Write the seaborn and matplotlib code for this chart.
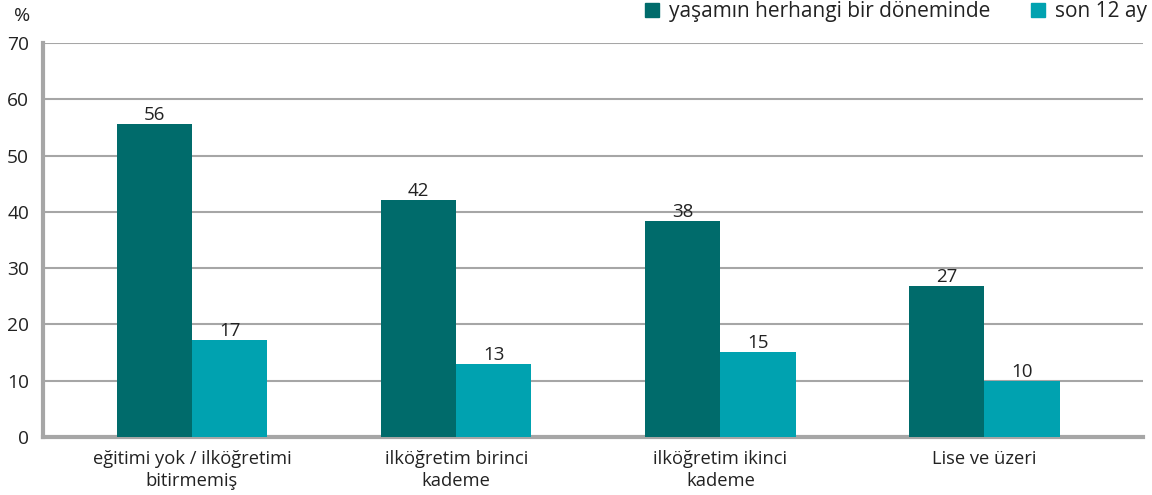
import pandas as pd
import seaborn as sns
import matplotlib.pyplot as plt
from matplotlib.lines import Line2D

categories = ["eğitimi yok / ilköğretimi\nbitirmemiş", "ilköğretim birinci\nkademe",
              "ilköğretim ikinci\nkademe", "Lise ve üzeri"]
series = ["yaşamın herhangi bir döneminde", "son 12 ay"]
lifetime = [55.6, 42.1, 38.4, 26.8]
last12 = [17.2, 13.0, 15.1, 9.9]
colors = ["#006b6b", "#00a2b0"]

df = pd.DataFrame({
    "kategori": categories * 2,
    "seri": [series[0]] * 4 + [series[1]] * 4,
    "deger": lifetime + last12,
})

sns.set_theme(style="white")
plt.rcParams["font.family"] = ["Open Sans", "DejaVu Sans"]
grid_c = "#a6a6a6"
txt_c = "#222222"

fig = plt.figure(figsize=(11.52, 4.95), dpi=100)
ax = fig.add_axes([43 / 1152, 1 - 437 / 495, 1100 / 1152, 394 / 495])

sns.barplot(data=df, x="kategori", y="deger", hue="seri", palette=colors,
            width=0.57, dodge=True, legend=False, ax=ax, saturation=1,
            linewidth=0, zorder=3)

for cont in ax.containers:
    ax.bar_label(cont, labels=[f"{v:.0f}" for v in cont.datavalues],
                 padding=0, fontsize=13.5, color=txt_c)

ax.set_xlim(-0.564, 3.60)
ax.set_ylim(0, 70)
ax.set_yticks(range(0, 71, 10))
ax.yaxis.grid(True, color=grid_c, linewidth=1.5, zorder=0)
ax.set_axisbelow(True)
ax.set_xlabel("")
ax.set_ylabel("")
ax.tick_params(axis="y", labelsize=13.8, colors=txt_c, length=4, width=1.5,
               color=grid_c, pad=6)
ax.tick_params(axis="x", labelsize=13.2, colors=txt_c, length=0, pad=9)
for lab in ax.get_xticklabels():
    lab.set_linespacing(1.3)
for s in ["top", "right"]:
    ax.spines[s].set_visible(False)
for s in ["left", "bottom"]:
    ax.spines[s].set_color(grid_c)
    ax.spines[s].set_linewidth(3)

fig.text(14 / 1152, 1 - 16 / 495, "%", fontsize=14, color=txt_c, va="center")

handles = [Line2D([], [], marker="s", linestyle="", markersize=10,
                  markerfacecolor=c, markeredgecolor=c) for c in colors]
fig.legend(handles, series, loc="upper right", bbox_to_anchor=(1.012, 1.035),
           ncol=2, frameon=False, fontsize=15, handletextpad=0.3,
           columnspacing=1.8, handlelength=1.0, labelcolor=txt_c)

fig.savefig("out.png", dpi=100)
